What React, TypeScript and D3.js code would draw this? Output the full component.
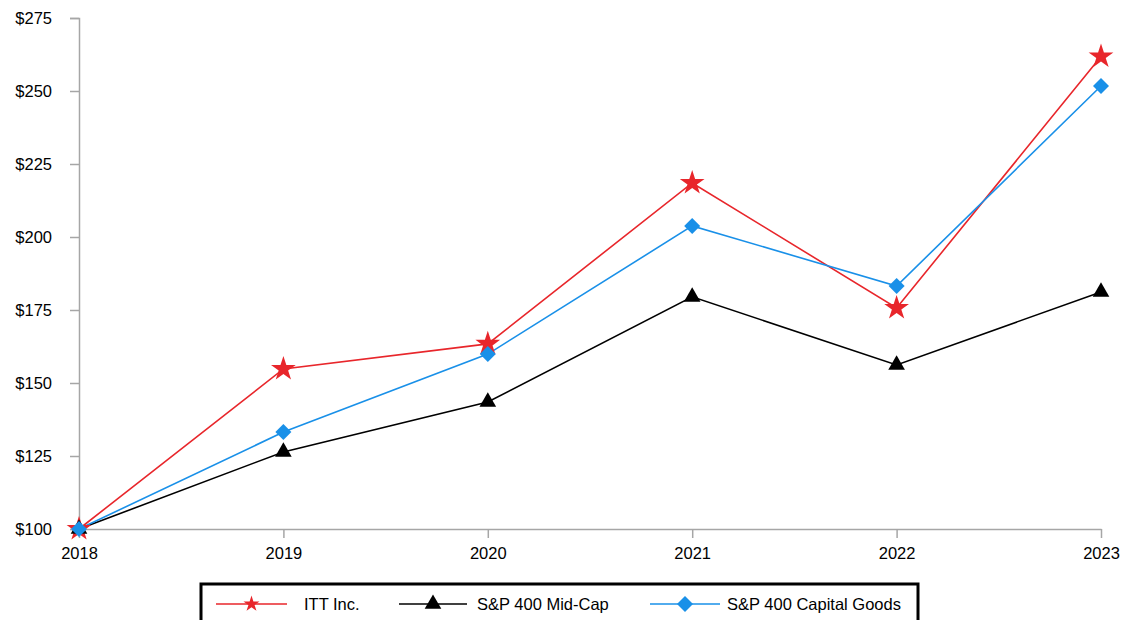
import React, { useEffect, useRef } from 'react';
import * as d3 from 'd3';

const years = ['2018', '2019', '2020', '2021', '2022', '2023'];
const ittValues = [100, 154.8, 163.4, 218.5, 175.7, 261.8];
const midCapValues = [100, 126.4, 143.5, 179.5, 156.2, 181.2];
const capGoodsValues = [100, 133.2, 159.9, 203.8, 183.2, 251.7];
const yTicks = [100, 125, 150, 175, 200, 225, 250, 275];

const seriesList = [
  { name: 'ITT Inc.', values: ittValues, color: '#e8262b', symbol: 'star' },
  { name: 'S&P 400 Mid-Cap', values: midCapValues, color: '#000000', symbol: 'triangle' },
  { name: 'S&P 400 Capital Goods', values: capGoodsValues, color: '#1990e8', symbol: 'diamond' },
];

const width = 1121;
const height = 620;
const margin = { top: 18, right: 20, bottom: 91, left: 79 };

function symbolPath(kind: string, big: boolean) {
  if (kind === 'star') return d3.symbol(d3.symbolStar, big ? 190 : 80)();
  if (kind === 'triangle') return d3.symbol(d3.symbolTriangle, 120)();
  return d3.symbol(d3.symbolSquare, 128)();
}

const App = () => {
  const ref = useRef<SVGSVGElement | null>(null);

  useEffect(() => {
    drawChart();
  }, []);

  function drawChart() {
    const svg = d3.select(ref.current);
    svg.selectAll('*').remove();

    const x = d3
      .scalePoint()
      .domain(years)
      .range([margin.left, width - margin.right]);
    const y = d3
      .scaleLinear()
      .domain([100, 275])
      .range([height - margin.bottom, margin.top]);

    const font = 'Liberation Sans, Arial, sans-serif';
    const axisColor = '#a6a6a6';

    // y axis
    const yAxis = svg
      .append('g')
      .attr('transform', `translate(${margin.left},0)`)
      .call(d3.axisLeft(y).tickValues(yTicks).tickSize(9).tickFormat((d) => `$${d}`));
    yAxis.select('.domain').attr('stroke', axisColor).attr('stroke-width', 1.5);
    yAxis.selectAll('.tick line').attr('stroke', axisColor).attr('stroke-width', 1.5);
    yAxis
      .selectAll('.tick text')
      .attr('x', -27)
      .style('font-family', font)
      .style('font-size', '16.5px')
      .attr('fill', '#000');

    // x axis
    const xAxis = svg
      .append('g')
      .attr('transform', `translate(0,${y(100)})`)
      .call(d3.axisBottom(x).tickSize(9).tickSizeOuter(0));
    xAxis.select('.domain').attr('stroke', axisColor).attr('stroke-width', 1.5);
    xAxis.selectAll('.tick line').attr('stroke', axisColor).attr('stroke-width', 1.5);
    xAxis
      .selectAll('.tick text')
      .attr('y', 18)
      .style('font-family', font)
      .style('font-size', '16.5px')
      .attr('fill', '#000');

    const line = d3
      .line<number>()
      .x((_, i) => x(years[i]) as number)
      .y((d) => y(d));

    seriesList.forEach((s) => {
      svg
        .append('path')
        .datum(s.values)
        .attr('d', line)
        .attr('fill', 'none')
        .attr('stroke', s.color)
        .attr('stroke-width', 1.6);
    });

    seriesList.forEach((s) => {
      svg
        .append('g')
        .selectAll('path')
        .data(s.values)
        .enter()
        .append('path')
        .attr('d', symbolPath(s.symbol, true))
        .attr('fill', s.color)
        .attr('transform', (d, i) => {
          const rot = s.symbol === 'diamond' ? ' rotate(45)' : '';
          return `translate(${x(years[i])},${y(d)})${rot}`;
        });
    });

    // legend
    const legend = svg.append('g');
    legend
      .append('rect')
      .attr('x', 201)
      .attr('y', 584)
      .attr('width', 717)
      .attr('height', 50)
      .attr('fill', 'none')
      .attr('stroke', '#000')
      .attr('stroke-width', 3);

    const legendItems = [
      { x0: 216, x1: 287, tx: 304 },
      { x0: 399, x1: 467, tx: 477 },
      { x0: 650, x1: 720, tx: 727 },
    ];
    const ly = 604;
    seriesList.forEach((s, i) => {
      const it = legendItems[i];
      legend
        .append('line')
        .attr('x1', it.x0)
        .attr('x2', it.x1)
        .attr('y1', ly)
        .attr('y2', ly)
        .attr('stroke', s.color)
        .attr('stroke-width', 1.6);
      const cx = (it.x0 + it.x1) / 2;
      legend
        .append('path')
        .attr('d', symbolPath(s.symbol, false))
        .attr('fill', s.color)
        .attr('transform', `translate(${cx},${ly})${s.symbol === 'diamond' ? ' rotate(45)' : ''}`);
      legend
        .append('text')
        .attr('x', it.tx)
        .attr('y', ly)
        .attr('dy', '0.35em')
        .style('font-family', font)
        .style('font-size', '16.5px')
        .text(s.name);
    });
  }

  return (
    <div style={{ position: 'fixed', left: 0, top: 0 }}>
      <svg ref={ref} width={width} height={height} style={{ display: 'block', background: '#fff' }} />
    </div>
  );
};

export default App;
